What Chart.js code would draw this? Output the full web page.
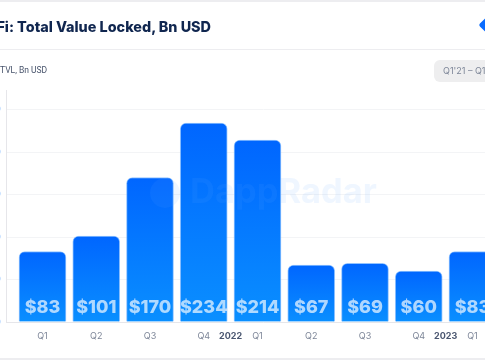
<!DOCTYPE html>
<html>
<head>
<meta charset="utf-8">
<script src="https://cdn.jsdelivr.net/npm/chart.js@4"></script>
<style>
html, body { margin: 0; padding: 0; background: #fff; }
body { position: relative; width: 485px; height: 360px; overflow: hidden; font-family: Inter, sans-serif; }
canvas { position: absolute; left: -40px; top: 0; }
.rule { position: absolute; left: 0; width: 485px; height: 1px; background: #ededf0; }
#title { position: absolute; right: 274px; top: 15px; font: 800 14.4px/24px Inter, sans-serif; color: #10264f; white-space: nowrap; }
#sub { position: absolute; left: 0; top: 64px; font: 8.5px/12px Roboto, sans-serif; color: #47536b; white-space: nowrap; }
#range { position: absolute; left: 434px; top: 60px; width: 70px; height: 22px; border-radius: 6px; background: #eeeeef; font: 9px/21px Inter, sans-serif; color: #7d8698; padding-left: 9px; white-space: nowrap; }
#logo { position: absolute; left: 481px; top: 19px; width: 12px; height: 12px; background: #0a6cff; transform: rotate(45deg); border-radius: 2px; }
</style>
</head>
<body>
<canvas id="tvlChart" width="560" height="360"></canvas>
<div class="rule" style="top:0;height:2px"></div>
<div class="rule" style="top:49px"></div>
<div class="rule" style="top:358px;height:2px"></div>
<div id="title">DeFi: Total Value Locked, Bn USD</div>
<div id="sub">TVL, Bn USD</div>
<div id="range">Q1'21 – Q1'23</div>
<div id="logo"></div>
<script>
var quarters = ["Q1", "Q2", "Q3", "Q4", "Q1", "Q2", "Q3", "Q4", "Q1"];
var tvlValues = [83, 101, 170, 234, 214, 67, 69, 60, 83];
var yearLabels = ["2022", "2023"];
var yearPositions = [3.5, 7.5];
var yTicks = [0, 50, 100, 150, 200, 250];

// the bars sit off the y axis, so x is linear and the quarters come back as tick labels
var xTickValues = quarters.map(function (q, i) { return i; }).concat(yearPositions);

function isYearTick(c) {
    return !!c.tick && yearPositions.indexOf(c.tick.value) >= 0;
}

function barGradient(ctx) {
    var chart = ctx.chart;
    if (!chart.chartArea || !ctx.raw) return "#0a7bff";
    var g = chart.ctx.createLinearGradient(0, chart.scales.y.getPixelForValue(ctx.raw.y), 0, chart.scales.y.getPixelForValue(0));
    g.addColorStop(0, "#0066ff");
    g.addColorStop(1, "#0a8fff");
    return g;
}

// faint enough to show on white and barely tint the bars it crosses
var watermark = {
    id: "watermark",
    afterDatasetsDraw: function (chart) {
        var c = chart.ctx;
        c.save();
        c.fillStyle = "rgba(100,170,255,0.1)";
        c.beginPath();
        c.arc(205, 193, 15, 0, Math.PI * 2);
        c.fill();
        c.font = "700 34.5px Inter, sans-serif";
        c.textAlign = "left";
        c.textBaseline = "middle";
        c.fillText("DappRadar", 230, 193);
        c.restore();
    }
};

var valueLabels = {
    id: "valueLabels",
    afterDatasetsDraw: function (chart) {
        var c = chart.ctx;
        var meta = chart.getDatasetMeta(0);
        c.save();
        c.font = "800 18px Inter, sans-serif";
        c.fillStyle = "rgba(255,255,255,0.68)";
        c.textAlign = "center";
        c.textBaseline = "middle";
        meta.data.forEach(function (bar, i) {
            c.fillText("$" + tvlValues[i], bar.x, 308);
        });
        c.restore();
    }
};

var ctx = document.getElementById("tvlChart").getContext("2d");
var tvlChart = new Chart(ctx, {
    type: "bar",
    data: {
        datasets: [{
            data: tvlValues.map(function (v, i) { return { x: i, y: v }; }),
            backgroundColor: barGradient,
            borderColor: "rgba(110,175,255,0.75)",
            borderWidth: { top: 1, left: 1, right: 1, bottom: 0 },
            borderSkipped: "bottom",
            borderRadius: { topLeft: 6, topRight: 6, bottomLeft: 0, bottomRight: 0 },
            barThickness: 47
        }]
    },
    options: {
        responsive: false,
        animation: false,
        layout: { padding: { top: 90, left: 0, right: 0, bottom: 0 } },
        plugins: { legend: { display: false }, tooltip: { enabled: false } },
        scales: {
            x: {
                type: "linear",
                offset: false,
                min: -0.679,
                max: 8.884,
                afterBuildTicks: function (axis) {
                    axis.ticks = xTickValues.map(function (v) { return { value: v }; });
                },
                afterFit: function (axis) { axis.height = 38; },
                grid: { display: false, offset: false },
                border: { color: "#e6e6ea" },
                ticks: {
                    autoSkip: false,
                    maxRotation: 0,
                    padding: 1,
                    callback: function (value) {
                        var y = yearPositions.indexOf(value);
                        return y >= 0 ? yearLabels[y] : quarters[value];
                    },
                    color: function (c) {
                        return isYearTick(c) ? "#4a5670" : "#7d8698";
                    },
                    font: function (c) {
                        return { family: "Inter, sans-serif", size: 9, weight: isYearTick(c) ? "700" : "400" };
                    }
                }
            },
            y: {
                min: 0,
                max: 273,
                afterBuildTicks: function (axis) {
                    axis.ticks = yTicks.map(function (v) { return { value: v }; });
                },
                afterFit: function (axis) { axis.width = 46; },
                grid: { color: "#f3f4f6", drawTicks: false },
                border: { color: "#e6e6ea" },
                ticks: {
                    padding: 5,
                    color: "#7db8ff",
                    font: { family: "Inter, sans-serif", size: 9 },
                    callback: function (value) { return "$" + value; }
                }
            }
        }
    },
    plugins: [watermark, valueLabels]
});
</script>
</body>
</html>
